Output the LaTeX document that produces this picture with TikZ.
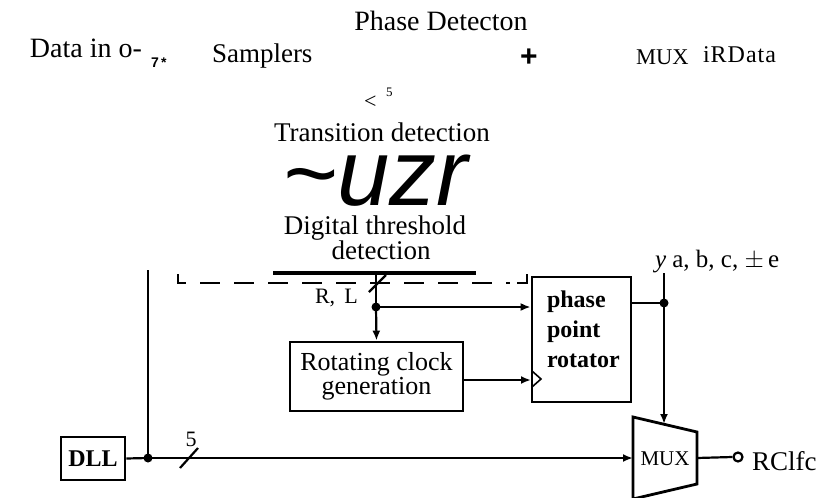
\documentclass[tikz,border=0pt]{standalone}
\usepackage{fontspec}
\setmainfont{Liberation Serif}
\newfontfamily\sansf{Liberation Sans}
\usetikzlibrary{arrows.meta}
\begin{document}
\begin{tikzpicture}[x=1pt,y=-1pt,
  lbl/.style={inner sep=0pt, outer sep=0pt},
  wire/.style={line width=2.2pt},
  blk/.style={draw, line width=2.8pt, inner sep=0pt},
  arr/.style={-{Latex[length=10pt,width=8pt]}},
  dot/.style={circle, fill, inner sep=0pt, minimum size=9pt},
  fs/.style={font=\fontsize{#1}{#1}\selectfont},
  ]
\useasboundingbox (0,0) rectangle (823,498);
% ---------- top texts ----------
\node[lbl, fs=28, anchor=base] (pd) at (441,30) {Phase Detecton};
\node[lbl, fs=28, anchor=base west] (din) at (30,57) {Data in o-};
\node[lbl, font=\sansf\bfseries\fontsize{14}{14}\selectfont, anchor=base west] (sev) at (151,67) {7\,*};
\node[lbl, fs=27, anchor=base west] (smp) at (212,62) {Samplers};
\node[lbl, fs=22, anchor=base west] (lt) at (364,108) {<};
\node[lbl, fs=13, anchor=base west] (five) at (386,96) {5};
\node[lbl, font=\sansf\bfseries\fontsize{30}{30}\selectfont] (plus) at (529,58) {+};
\node[lbl, fs=22.5, anchor=base west] (muxt) at (636,64) {MUX};
\node[lbl, fs=24, anchor=base west] (ird) at (703,62) {i\kern1pt R\kern1pt D\kern1pt a\kern1pt t\kern1pt a};
\node[lbl, fs=27, anchor=base] (trd) at (382,141) {Transition detection};
\node[lbl, font=\sansf\itshape\fontsize{94}{94}\selectfont, anchor=base] (uzr) at (375,205) {\char`\~uzr};
\node[lbl, fs=27, anchor=base] (dth1) at (375,234) {Digital threshold};
\node[lbl, fs=27, anchor=base] (dth2) at (381,259) {detection};
% ---------- bar and dashed line ----------
\coordinate (bar1) at (273,272.5);
\coordinate (bar2) at (476,272.5);
\draw[line width=4pt] (bar1) -- (bar2);
\coordinate (dl) at (178,283);
\coordinate (dr) at (527,283);
\draw[line width=2.5pt] (178,274) -- (dl) -- (186,283);
\draw[line width=2.5pt] (527,274) -- (dr) -- (517,283);
\draw[line width=2.5pt, dash pattern=on 20pt off 14pt] (200,283) -- (510,283);
% ---------- DLL ----------
\node[blk, minimum width=64pt, minimum height=43pt, font=\bfseries\fontsize{24}{24}\selectfont] (dll) at (93,458.5) {DLL};
\coordinate (jdll) at (148,458);
\coordinate (vtop) at (148,270);
\draw[wire] (dll.east) -- (jdll);
\draw[wire] (vtop) -- (jdll);
\node[dot] at (jdll) {};
\coordinate (s1) at (180,468);
\coordinate (s2) at (198,448);
\draw[wire] (s1) -- (s2);
\node[lbl, fs=22, anchor=base] (bus5) at (191,446) {5};
% ---------- MUX ----------
\coordinate (mtl) at (633,417);
\coordinate (mtr) at (697,432);
\coordinate (mbr) at (697,484);
\coordinate (mbl) at (633,499);
\draw[line width=2.8pt, line join=miter] (mtl) -- (mtr) -- (mbr) -- (mbl) -- cycle;
\node[lbl, fs=21] (muxl) at (665,459) {MUX};
\coordinate (muxin) at (633,458);
\coordinate (muxout) at (697,458);
\coordinate (muxtop) at (664,424);
\draw[wire, arr] (jdll) -- (muxin);
\node[circle, draw, line width=2.2pt, minimum size=9pt, inner sep=0pt] (oc) at (738,457) {};
\draw[wire] (muxout) -- (oc.west);
\node[lbl, fs=27, anchor=base west] (rclk) at (752,470) {RClfc};
% ---------- R,L and rotating clock ----------
\node[lbl, fs=22, anchor=base west] (rl) at (315,303) {R,\, L};
\coordinate (jrl) at (376,307);
\coordinate (barmid) at (376,272.5);
\draw[wire] (barmid) -- (jrl);
\node[dot] at (jrl) {};
\draw[wire] (369,292) -- (386,275);
\node[blk, minimum width=173pt, minimum height=69pt] (rot) at (376.5,376.5) {};
\node[lbl, anchor=north, align=center, font=\fontsize{26}{24}\selectfont] (rottxt) at (376.5,352) {Rotating clock\\generation};
% ---------- phase point rotator ----------
\node[blk, minimum width=99pt, minimum height=125pt] (ppr) at (581.5,339.5) {};
\node[lbl, anchor=north west, align=left, font=\bfseries\fontsize{24}{30}\selectfont] (pprtxt) at (547,291) {phase\\point\\rotator};
\draw[line width=1.6pt] (532,371) -- (541,379) -- (532,387);
\draw[wire, arr] (jrl) -- (jrl -| ppr.west);
\draw[wire, arr] (rot.east |- 0,380) -- (531,380);
\draw[wire, arr] (jrl) -- (rot.north);
% ---------- output select ----------
\coordinate (jout) at (664,303);
\coordinate (ytop) at (664,273);
\draw[wire] (ppr.east |- jout) -- (jout);
\draw[wire] (ytop) -- (jout);
\draw[wire, arr] (jout) -- (muxtop);
\node[dot] at (jout) {};
\node[lbl, fs=25, anchor=base west] (sel) at (655,267) {\textit{y} a, b, c, $\pm$\,e};
\end{tikzpicture}
\end{document}
